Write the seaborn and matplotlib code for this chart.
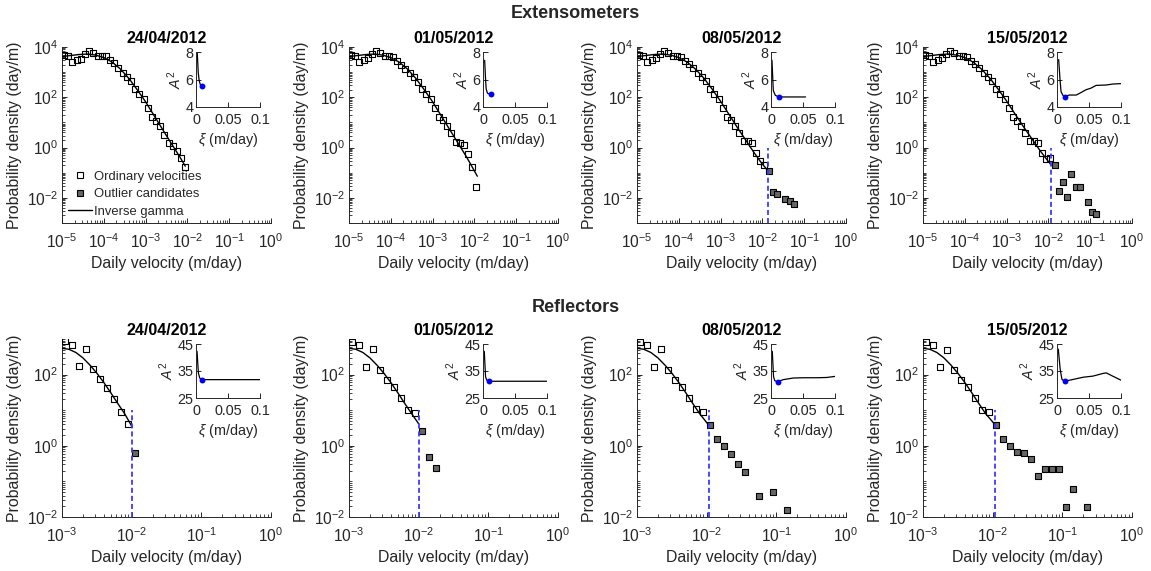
import numpy as np
import pandas as pd
import matplotlib
matplotlib.use("Agg")
import matplotlib.pyplot as plt
import seaborn as sns
from matplotlib.lines import Line2D
from matplotlib.ticker import LogLocator, NullFormatter

## Panel dates
dates = ["24/04/2012", "01/05/2012", "08/05/2012", "15/05/2012"]

## Extensometers: log10 bin centre (m/day) and log10 probability density (day/m)
ext_bins = [-4.95, -4.85, -4.75, -4.65, -4.55, -4.45, -4.35, -4.25, -4.15, -4.05,
            -3.95, -3.85, -3.75, -3.65, -3.55, -3.45, -3.35, -3.25, -3.15, -3.05,
            -2.95, -2.85, -2.75, -2.65, -2.55, -2.45, -2.35, -2.25, -2.15, -2.05, -1.95]
ext_pdf_1 = [3.67, 3.63, 3.41, 3.50, 3.54, 3.71, 3.84, 3.76, 3.66, 3.66, 3.63, 3.50, 3.35, 3.15, 2.98,
             2.80, 2.64, 2.33, 2.14, 1.95, 1.57, 1.23, 1.06, 0.84, 0.51, 0.18, 0.08, -0.12, -0.42, -0.77]
ext_pdf_2 = [3.67, 3.63, 3.41, 3.50, 3.58, 3.71, 3.84, 3.76, 3.66, 3.66, 3.61, 3.45, 3.27, 3.11, 2.95,
             2.80, 2.61, 2.33, 2.14, 1.95, 1.57, 1.23, 1.10, 0.86, 0.58, 0.24, 0.18, 0.10, -0.25, -0.77, -1.57]
ext_pdf_3 = [3.67, 3.63, 3.41, 3.50, 3.58, 3.71, 3.84, 3.76, 3.66, 3.66, 3.61, 3.45, 3.32, 3.15, 2.98,
             2.80, 2.63, 2.33, 2.14, 1.95, 1.57, 1.23, 1.10, 0.86, 0.58, 0.27, 0.27, 0.18, -0.21, -0.55, -0.68]
ext_pdf_4 = [3.67, 3.63, 3.41, 3.50, 3.58, 3.71, 3.84, 3.76, 3.66, 3.66, 3.61, 3.45, 3.32, 3.15, 2.98,
             2.80, 2.63, 2.33, 2.14, 1.95, 1.57, 1.23, 1.06, 0.84, 0.58, 0.27, 0.27, 0.18, -0.21, -0.44, -0.42]

# Outlier candidates (log10 velocity, log10 density)
ext_out_x_3 = [-1.85, -1.75, -1.65, -1.45, -1.35, -1.25]
ext_out_y_3 = [-0.92, -1.75, -1.86, -2.05, -2.14, -2.25]
ext_out_x_4 = [-1.85, -1.75, -1.65, -1.55, -1.45, -1.35, -1.25, -1.05, -0.95, -0.85]
ext_out_y_4 = [-0.70, -1.74, -1.37, -1.96, -1.06, -1.56, -1.56, -2.15, -2.55, -2.65]

# Inverse gamma fits (log10)
ext_fit_x = [-5.0, -4.8, -4.6, -4.4, -4.2, -4.0, -3.8, -3.6, -3.4, -3.2, -3.0, -2.8, -2.6, -2.4, -2.2, -2.05]
ext_fit_y_1 = [3.62, 3.66, 3.70, 3.72, 3.68, 3.58, 3.40, 3.12, 2.75, 2.30, 1.82, 1.28, 0.74, 0.20, -0.32, -0.74]
ext_fit_y_2 = [3.62, 3.66, 3.70, 3.72, 3.68, 3.58, 3.40, 3.12, 2.75, 2.30, 1.82, 1.28, 0.74, 0.20, -0.34, -0.78]
ext_fit_y_3 = [3.62, 3.66, 3.70, 3.72, 3.68, 3.58, 3.40, 3.12, 2.76, 2.32, 1.84, 1.32, 0.80, 0.30, -0.20, -0.55]
ext_fit_y_4 = [3.62, 3.66, 3.70, 3.72, 3.68, 3.58, 3.40, 3.12, 2.76, 2.32, 1.85, 1.34, 0.84, 0.36, -0.12, -0.45]
ext_fit_end_x = [None, -1.93, -1.87, -1.93]
ext_fit_end_y = [None, -1.14, -0.92, -0.70]
ext_threshold = [None, None, -1.87, -1.93]
ext_thr_top = 1.0

# A^2 insets
ext_xi_1 = [0.002, 0.0035, 0.005, 0.007, 0.0094]
ext_a2_1 = [7.9, 6.5, 5.9, 5.6, 5.5]
ext_xi_2 = [0.0026, 0.004, 0.005, 0.007, 0.012]
ext_a2_2 = [7.4, 6.0, 5.3, 5.0, 4.92]
ext_xi_3 = [0.0015, 0.0028, 0.0036, 0.0067, 0.0123, 0.03, 0.054]
ext_a2_3 = [7.4, 6.0, 5.2, 4.85, 4.73, 4.73, 4.73]
ext_xi_4 = [0.0026, 0.0047, 0.0063, 0.0089, 0.0119, 0.019, 0.03, 0.0375, 0.045, 0.053, 0.061, 0.077, 0.087, 0.1]
ext_a2_4 = [7.45, 6.0, 5.12, 4.87, 4.75, 4.87, 4.87, 5.05, 5.25, 5.37, 5.57, 5.6, 5.67, 5.7]
ext_best_xi = [0.0094, 0.012, 0.0123, 0.0119]
ext_best_a2 = [5.5, 4.92, 4.73, 4.75]

## Reflectors
refl_bins = [-2.95, -2.85, -2.75, -2.65, -2.55, -2.45, -2.35, -2.25, -2.15, -2.05]
refl_pdf_1 = [2.94, 2.84, 2.23, 2.73, 2.15, 1.87, 1.63, 1.31, 0.94, 0.61]
refl_pdf_2 = [2.92, 2.82, 2.22, 2.72, 2.12, 1.86, 1.66, 1.33, 1.00, 0.92]
refl_pdf_3 = [2.92, 2.82, 2.22, 2.71, 2.12, 1.86, 1.65, 1.33, 1.02, 0.95]
refl_pdf_4 = [2.92, 2.82, 2.20, 2.70, 2.12, 1.84, 1.64, 1.33, 1.00, 0.94]

refl_out_x_1 = [-1.95]
refl_out_y_1 = [-0.21]
refl_out_x_2 = [-1.95, -1.85, -1.75]
refl_out_y_2 = [0.41, -0.31, -0.61]
refl_out_x_3 = [-1.95, -1.85, -1.75, -1.65, -1.55, -1.45, -1.25, -1.05, -0.85]
refl_out_y_3 = [0.58, 0.20, 0.00, -0.24, -0.50, -0.74, -1.42, -1.31, -1.81]
refl_out_x_4 = [-1.95, -1.85, -1.75, -1.65, -1.55, -1.45, -1.35, -1.25, -1.15, -1.05, -0.95, -0.85, -0.65]
refl_out_y_4 = [0.58, 0.19, -0.01, -0.17, -0.20, -0.37, -0.84, -0.64, -0.66, -0.66, -1.72, -1.22, -1.72]

refl_fit_x = [-3.0, -2.9, -2.8, -2.7, -2.6, -2.5, -2.4, -2.3, -2.2, -2.1]
refl_fit_y = [2.74, 2.71, 2.62, 2.47, 2.27, 2.04, 1.78, 1.49, 1.19, 0.90]
refl_fit_end_x = [-1.99, -2.00, -1.97, -1.96]
refl_fit_end_y = [0.52, 0.62, 0.58, 0.58]
refl_threshold = [-1.99, -2.00, -1.97, -1.96]
refl_thr_top = 10.0

refl_xi_1 = [0.0016, 0.0037, 0.0058, 0.0089, 0.1]
refl_a2_1 = [42.3, 34.3, 32.4, 31.8, 31.8]
refl_xi_2 = [0.002, 0.004, 0.006, 0.0093, 0.1]
refl_a2_2 = [42.3, 32.8, 31.6, 31.2, 31.2]
refl_xi_3 = [0.002, 0.004, 0.006, 0.0104, 0.019, 0.035, 0.05, 0.071, 0.087, 0.1]
refl_a2_3 = [42.3, 32.8, 31.4, 31.0, 31.8, 32.4, 32.5, 32.5, 32.6, 33.0]
refl_xi_4 = [0.002, 0.005, 0.0077, 0.0118, 0.0256, 0.041, 0.056, 0.072, 0.077, 0.087, 0.1]
refl_a2_4 = [43.1, 35.6, 31.9, 31.2, 31.9, 32.7, 33.1, 34.1, 34.3, 33.1, 31.6]
refl_best_xi = [0.0089, 0.0093, 0.0104, 0.0118]
refl_best_a2 = [31.8, 31.2, 31.0, 31.2]

## Style
sns.set_theme(style="ticks")
plt.rcParams["font.family"] = ["Liberation Sans", "DejaVu Sans"]
plt.rcParams["mathtext.fontset"] = "custom"
plt.rcParams["mathtext.rm"] = "Liberation Sans"
plt.rcParams["mathtext.it"] = "Liberation Sans:italic"
plt.rcParams["mathtext.bf"] = "Liberation Sans:bold"
plt.rcParams["lines.scale_dashes"] = False

ink = "#262626"
grey = "#666666"
blue = "#3b3bff"

fig = plt.figure(figsize=(11.51, 5.71), dpi=100)
W, H = 1151, 571
lefts = [62, 349, 637, 923]


def style_axes(ax, size, xpad, ypad):
    sns.despine(ax=ax)
    for s in ["left", "bottom"]:
        ax.spines[s].set_color(ink)
        ax.spines[s].set_linewidth(0.7)
    ax.tick_params(which="both", direction="in", colors=ink, labelsize=size)
    ax.tick_params(axis="x", which="both", pad=xpad)
    ax.tick_params(axis="y", which="both", pad=ypad)
    ax.tick_params(which="major", length=3.5, width=0.7)
    ax.tick_params(which="minor", length=2, width=0.6)


def draw_row(top_px, bottom_px, bins, pdfs, outs, fits, thresholds, thr_top,
             xlim, ylim, xticks, yticks, insets, inset_ylim, inset_yticks, ins_top, ins_bot):
    for i in range(4):
        ax = fig.add_axes([lefts[i] / W, 1 - bottom_px / H, 209 / W, (bottom_px - top_px) / H])
        ax.set_xscale("log")
        ax.set_yscale("log")

        pdf = pdfs[i]
        ordinary = pd.DataFrame({"v": 10 ** np.array(bins[:len(pdf)]), "p": 10 ** np.array(pdf)})
        sns.scatterplot(data=ordinary, x="v", y="p", marker="s", s=25, color=(1, 1, 1, 0),
                        edgecolor="black", linewidth=0.8, ax=ax, zorder=3)
        ox, oy = outs[i]
        if ox is not None:
            outl = pd.DataFrame({"v": 10 ** np.array(ox), "p": 10 ** np.array(oy)})
            sns.scatterplot(data=outl, x="v", y="p", marker="s", s=25, color=grey,
                            edgecolor="black", linewidth=0.8, ax=ax, zorder=3)
        fx, fy = fits[i]
        fit = pd.DataFrame({"v": 10 ** np.array(fx), "p": 10 ** np.array(fy)})
        sns.lineplot(data=fit, x="v", y="p", color="black", linewidth=1.0, sort=False,
                     estimator=None, ax=ax, zorder=4)
        if thresholds[i] is not None:
            ax.vlines(10 ** thresholds[i], ylim[0], thr_top, colors=blue, linewidth=1.3,
                      linestyles=(0, (3.6, 2.2)), zorder=5)

        ax.set_xlim(*xlim)
        ax.set_ylim(*ylim)
        ax.set_xticks(xticks)
        ax.set_yticks(yticks)
        ax.xaxis.set_minor_locator(LogLocator(base=10, subs=np.arange(1, 10), numticks=30))
        ax.yaxis.set_minor_locator(LogLocator(base=10, subs=np.arange(1, 10), numticks=30))
        ax.xaxis.set_minor_formatter(NullFormatter())
        ax.yaxis.set_minor_formatter(NullFormatter())
        style_axes(ax, 11.2, 6.5, 3)
        ax.set_xlabel("Daily velocity (m/day)", fontsize=11.4, color=ink, labelpad=4)
        ax.set_ylabel("Probability density (day/m)", fontsize=11.4, color=ink, labelpad=3)
        ax.set_title(dates[i], fontweight="bold", fontsize=11.6, pad=3, color="black")

        # inset with A^2 against xi
        xi, a2, bx, by = insets[i]
        ins = fig.add_axes([(lefts[i] + 134) / W, 1 - ins_bot / H, 64 / W, (ins_bot - ins_top) / H])
        curve = pd.DataFrame({"xi": xi, "a2": a2})
        sns.lineplot(data=curve, x="xi", y="a2", color="black", linewidth=0.9, sort=False,
                     estimator=None, ax=ins)
        sns.scatterplot(x=[bx], y=[by], color="blue", s=18, edgecolor="blue", linewidth=0, ax=ins, zorder=5)
        ins.set_xlim(0, 0.1)
        ins.set_ylim(*inset_ylim)
        ins.set_xticks([0, 0.05, 0.1])
        ins.set_xticklabels(["0", "0.05", "0.1"])
        ins.set_yticks(inset_yticks)
        style_axes(ins, 10.4, 4.5, 2)
        ins.set_xlabel(r"$\xi$ (m/day)", fontsize=10.4, color=ink, labelpad=3)
        ins.set_ylabel(r"$A^2$", fontsize=10.4, color=ink, labelpad=1)
        if i == 0 and thr_top == ext_thr_top:
            handles = [Line2D([], [], marker="s", ls="none", mfc="none", mec="black", ms=4.8, mew=0.8),
                       Line2D([], [], marker="s", ls="none", mfc=grey, mec="black", ms=4.8, mew=0.8),
                       Line2D([], [], color="black", lw=1.0)]
            ax.legend(handles, ["Ordinary velocities", "Outlier candidates", "Inverse gamma"],
                      loc="lower left", bbox_to_anchor=(0.03, 0.03), frameon=False, fontsize=9.4,
                      handlelength=1.8, handletextpad=0.15, borderpad=0, labelspacing=0.4,
                      borderaxespad=0)


ext_pdfs = [ext_pdf_1, ext_pdf_2, ext_pdf_3, ext_pdf_4]
ext_outs = [(None, None), (None, None), (ext_out_x_3, ext_out_y_3), (ext_out_x_4, ext_out_y_4)]
ext_fits = []
for k, fy in enumerate([ext_fit_y_1, ext_fit_y_2, ext_fit_y_3, ext_fit_y_4]):
    if ext_fit_end_x[k] is None:
        ext_fits.append((ext_fit_x, fy))
    else:
        ext_fits.append((ext_fit_x + [ext_fit_end_x[k]], fy + [ext_fit_end_y[k]]))
ext_insets = [(ext_xi_1, ext_a2_1, ext_best_xi[0], ext_best_a2[0]),
              (ext_xi_2, ext_a2_2, ext_best_xi[1], ext_best_a2[1]),
              (ext_xi_3, ext_a2_3, ext_best_xi[2], ext_best_a2[2]),
              (ext_xi_4, ext_a2_4, ext_best_xi[3], ext_best_a2[3])]

draw_row(47, 223, ext_bins, ext_pdfs, ext_outs, ext_fits, ext_threshold, ext_thr_top,
         (1e-5, 1), (1e-3, 1e4), [1e-5, 1e-4, 1e-3, 1e-2, 1e-1, 1], [1e-2, 1, 1e2, 1e4],
         ext_insets, (4, 8), [4, 6, 8], 52, 107)

refl_pdfs = [refl_pdf_1, refl_pdf_2, refl_pdf_3, refl_pdf_4]
refl_outs = [(refl_out_x_1, refl_out_y_1), (refl_out_x_2, refl_out_y_2),
             (refl_out_x_3, refl_out_y_3), (refl_out_x_4, refl_out_y_4)]
refl_fits = [(refl_fit_x + [refl_fit_end_x[k]], refl_fit_y + [refl_fit_end_y[k]]) for k in range(4)]
refl_insets = [(refl_xi_1, refl_a2_1, refl_best_xi[0], refl_best_a2[0]),
               (refl_xi_2, refl_a2_2, refl_best_xi[1], refl_best_a2[1]),
               (refl_xi_3, refl_a2_3, refl_best_xi[2], refl_best_a2[2]),
               (refl_xi_4, refl_a2_4, refl_best_xi[3], refl_best_a2[3])]

draw_row(339, 517, refl_bins, refl_pdfs, refl_outs, refl_fits, refl_threshold, refl_thr_top,
         (1e-3, 1), (1e-2, 1e3), [1e-3, 1e-2, 1e-1, 1], [1e-2, 1, 1e2],
         refl_insets, (25, 45), [25, 35, 45], 344, 398)

fig.text(0.5, 1 - 14 / H, "Extensometers", ha="center", va="center", fontsize=13, fontweight="bold")
fig.text(0.5, 1 - 307 / H, "Reflectors", ha="center", va="center", fontsize=13, fontweight="bold")

fig.savefig("out.png", dpi=100)
